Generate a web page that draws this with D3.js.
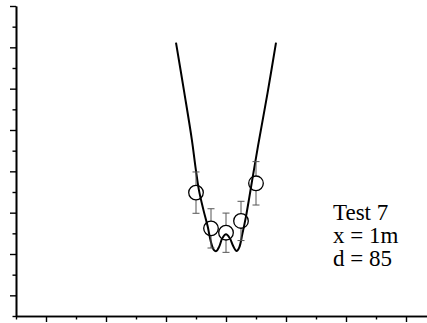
<!DOCTYPE html>
<html>
<head>
<meta charset="utf-8">
<script src="https://cdn.jsdelivr.net/npm/d3@7/dist/d3.min.js"></script>
<style>
  html, body { margin: 0; padding: 0; background: #fff; }
  svg { display: block; }
</style>
</head>
<body>
<svg id="chart" width="427" height="323"></svg>
<script>
// Measured points: position, mean value and error
const pointX = [-1, -0.5, 0, 0.5, 1];
const pointY = [4.97, 3.24, 3.03, 3.60, 5.42];
const pointErr = [1.0, 0.95, 0.95, 0.95, 1.05];

// Fitted curve, sampled along its length
const fitX = [-1.667, -1.39, -1.14, -1.007, -0.907, -0.757, -0.613, -0.507, -0.407, -0.323,
              -0.223, -0.123, 0, 0.127, 0.243, 0.353, 0.443, 0.543, 0.66, 0.777, 0.877,
              1.087, 1.387, 1.667];
const fitY = [12.23, 9.81, 7.55, 6.10, 5.13, 4.16, 3.35, 2.61, 2.20, 2.14,
              2.37, 2.76, 2.95, 2.76, 2.37, 2.14, 2.32, 2.95, 3.77, 4.74, 5.61,
              7.39, 9.81, 12.23];

// Annotation lines
const noteLines = ["Test 7", "x = 1m", "d = 85"];

// Axis tick values
const xMajor = [-6, -4, -2, 0, 2, 4, 6];
const xMinor = [-7, -5, -3, -1, 1, 3, 5];
const yMajor = [0, 2, 4, 6, 8, 10, 12, 14];
const yMinor = [-1, 1, 3, 5, 7, 9, 11, 13];

const svg = d3.select("#chart");
const x = d3.scaleLinear().domain([-7, 6.7]).range([16, 427]);
const y = d3.scaleLinear().domain([-1, 14]).range([316, 6]);

// Axes
const axW = 1.6;
function styleAxis(g) {
  g.select(".domain").attr("stroke", "#000").attr("stroke-width", axW);
  g.selectAll(".tick line").attr("stroke", "#000").attr("stroke-width", 1.4);
  g.selectAll(".tick text").remove();
}
svg.append("g").attr("transform", "translate(16,0)")
  .call(d3.axisLeft(y).tickValues(yMajor).tickSize(6).tickSizeOuter(0).tickFormat(""))
  .call(styleAxis);
svg.append("g").attr("transform", "translate(16,0)")
  .call(d3.axisLeft(y).tickValues(yMinor).tickSize(3.5).tickSizeOuter(0).tickFormat(""))
  .call(styleAxis);
svg.append("g").attr("transform", "translate(0,316)")
  .call(d3.axisBottom(x).tickValues(xMajor).tickSize(6).tickSizeOuter(0).tickFormat(""))
  .call(styleAxis);
svg.append("g").attr("transform", "translate(0,316)")
  .call(d3.axisBottom(x).tickValues(xMinor).tickSize(3.5).tickSizeOuter(0).tickFormat(""))
  .call(styleAxis);

// Fit curve
const fit = fitX.map((v, i) => [v, fitY[i]]);
svg.append("path")
  .datum(fit)
  .attr("fill", "none")
  .attr("stroke", "#000")
  .attr("stroke-width", 2)
  .attr("d", d3.line().x(d => x(d[0])).y(d => y(d[1])).curve(d3.curveCatmullRom.alpha(0.5)));

// Error bars and hollow markers
const r = 7.3;
const pts = pointX.map((v, i) => ({ x: v, y: pointY[i], e: pointErr[i] }));
const g = svg.append("g");
pts.forEach(p => {
  const cx = x(p.x), cy = y(p.y), top = y(p.y + p.e), bot = y(p.y - p.e);
  const bar = g.append("g").attr("stroke", "#555").attr("stroke-width", 1);
  bar.append("line").attr("x1", cx).attr("x2", cx).attr("y1", top).attr("y2", cy - r);
  bar.append("line").attr("x1", cx).attr("x2", cx).attr("y1", cy + r).attr("y2", bot);
  bar.append("line").attr("x1", cx - 3.5).attr("x2", cx + 3.5).attr("y1", top).attr("y2", top);
  bar.append("line").attr("x1", cx - 3.5).attr("x2", cx + 3.5).attr("y1", bot).attr("y2", bot);
  g.append("circle").attr("cx", cx).attr("cy", cy).attr("r", r)
    .attr("fill", "none").attr("stroke", "#000").attr("stroke-width", 1.3);
});

// Annotation
svg.append("g")
  .selectAll("text")
  .data(noteLines)
  .join("text")
  .attr("x", 333)
  .attr("y", (d, i) => 219.5 + i * 23.4)
  .attr("font-family", "'Liberation Serif', 'Times New Roman', serif")
  .attr("font-size", 23)
  .attr("fill", "#000")
  .text(d => d);
</script>
</body>
</html>
